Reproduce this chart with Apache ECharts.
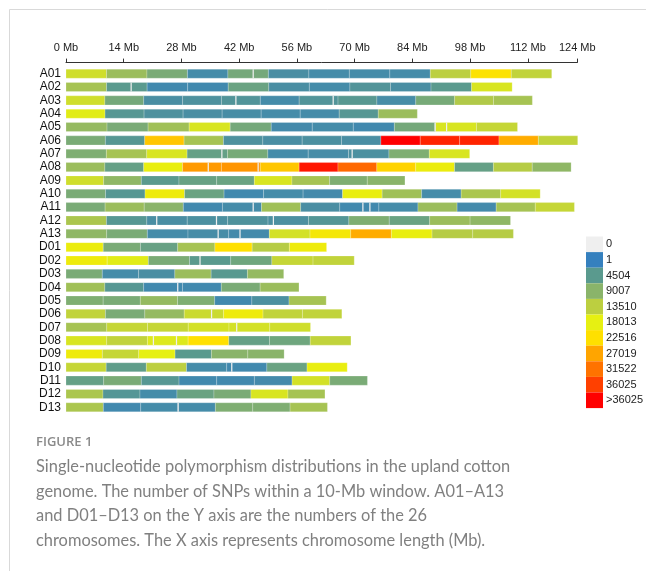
<!DOCTYPE html>
<html>
<head>
<meta charset="utf-8">
<script src="https://cdn.jsdelivr.net/npm/echarts@6/dist/echarts.min.js"></script>
<style>
  html, body { margin: 0; padding: 0; background: #ffffff; }
  #chart { width: 646px; height: 571px; }
</style>
</head>
<body>
<div id="chart"></div>
<script>
// Chromosome names (Y axis, top to bottom)
const chromosomes = ['A01','A02','A03','A04','A05','A06','A07','A08','A09','A10','A11','A12','A13',
                     'D01','D02','D03','D04','D05','D06','D07','D08','D09','D10','D11','D12','D13'];

// Chromosome lengths (Mb)
const lengthsMb = [117.8,108.2,113.1,85.2,109.5,124.1,97.9,122.5,82.2,115.0,123.3,107.8,108.5,
                   63.2,69.9,52.8,56.5,63.1,66.9,59.3,69.1,52.9,68.2,73.1,62.8,63.4];

// SNP counts per window, in order along each chromosome
const snpA01 = [15500,10500,7500,2000,7000,2500,2000,2000,2000,13500,22000,14000];
const snpA02 = [11500,4500,1500,1500,6000,2500,2000,3500,2500,4500,16500];
const snpA03 = [15500,7000,2500,3000,3500,2000,3500,4200,2200,7200,12500,11500];
const snpA04 = [17500,4000,3000,2500,2300,2000,2000,4000,10500];
const snpA05 = [10000,7500,11000,16500,7000,1800,2000,1500,7000,16500,14500];
const snpA06 = [7500,4000,24500,11500,3000,2500,2800,2500,40500,38000,38000,26500,14000];
const snpA07 = [8000,11500,16500,5500,7200,2000,2200,2800,8000,16500];
const snpA08 = [10500,5500,18500,28000,28500,24500,39000,32500,23500,19000,5500,13000,9500];
const snpA09 = [15500,9500,4500,5800,6000,16500,11500,8000,9000];
const snpA10 = [7500,4000,19500,6000,1500,2000,1800,18500,11000,2000,12000,16000];
const snpA11 = [7500,10500,9000,1500,2000,11000,2500,1500,2000,10500,1800,11500,14500];
const snpA12 = [12000,4000,2500,2800,3200,2800,3800,8000,6000,10500,9500];
const snpA13 = [9500,7500,2000,2200,1800,16000,20500,26500,18500,13000,13000];
const snpD01 = [19000,7500,5800,11500,22500,13000,19500];
const snpD02 = [19500,17500,7500,4500,6500,14500,14000];
const snpD03 = [7500,2000,2500,10500,4300,10000];
const snpD04 = [11000,4000,1500,1500,7500,10500];
const snpD05 = [8000,7500,10000,8000,1500,2800,11500];
const snpD06 = [14000,7500,10000,15000,19500,14000,14000];
const snpD07 = [11500,14500,14500,16000,16000,15500];
const snpD08 = [16500,14000,17000,22500,5500,6500,14000];
const snpD09 = [19500,14500,18000,4500,9000,9000];
const snpD10 = [14500,5000,13500,2000,1500,6000,18500];
const snpD11 = [5500,7500,4000,1500,1500,1800,16000,7500];
const snpD12 = [12000,3800,2000,6000,7500,16500,11500];
const snpD13 = [12000,1500,2000,2000,8000,8000,11500];

const snpByChromosome = [snpA01,snpA02,snpA03,snpA04,snpA05,snpA06,snpA07,snpA08,snpA09,snpA10,snpA11,snpA12,snpA13,
                         snpD01,snpD02,snpD03,snpD04,snpD05,snpD06,snpD07,snpD08,snpD09,snpD10,snpD11,snpD12,snpD13];

// Positions (Mb) of short stretches with no SNPs
const emptySpots = [['A01',45.4],['A02',15.8],['A03',41.2],['A03',64.8],['A05',89.5],['A05',92.3],
                    ['A07',37.8],['A07',69.4],['A08',34.5],['A08',46.6],['A11',45.4],['A11',72.0],['A11',73.7],
                    ['A12',22.0],['A12',36.5],['A12',50.3],['A13',36.9],['A13',42.2],['D02',32.5],['D04',27.1],
                    ['D06',35.3],['D07',41.4],['D08',21.2],['D08',26.8],['D10',40.2],['D13',27.2]];

// X axis tick positions (Mb)
const tickMb = [0,14,28,42,56,70,84,98,112,124];

// Colour key
const keyLabels = ['0','1','4504','9007','13510','18013','22516','27019','31522','36025','>36025'];
const keyColors = ['#efefef','#3580be','#5a9a8e','#8ab46a','#bccf40','#e6f012','#ffe000','#ffa500','#ff7300','#ff4000','#ff0000'];
const keyBreaks = [0,1,4504,9007,13510,18013,22516,27019,31522,36025,40528];

// Windows: [start, end, chromosome index, SNP count]
const windows = [];
snpByChromosome.forEach((counts, ci) => {
  const step = lengthsMb[ci] / counts.length;
  counts.forEach((v, i) => {
    windows.push([step * i, step * (i + 1), ci, v]);
  });
});
const gapWidth = 0.3;
const gaps = emptySpots.map(([name, pos]) => [pos - gapWidth / 2, pos + gapWidth / 2, chromosomes.indexOf(name), 0]);

function renderBlock(params, api) {
  const row = api.value(2);
  const a = api.coord([api.value(0), row]);
  const b = api.coord([api.value(1), row]);
  const h = api.size([0, 1])[1] * 0.68;
  return {
    type: 'rect',
    shape: { x: a[0], y: a[1] - h / 2, width: b[0] - a[0], height: h },
    style: { fill: api.visual('color'), stroke: 'rgba(255,255,255,0.35)', lineWidth: 0.6 }
  };
}
function renderGap(params, api) {
  const row = api.value(2);
  const a = api.coord([api.value(0), row]);
  const b = api.coord([api.value(1), row]);
  const h = api.size([0, 1])[1] * 0.68;
  return {
    type: 'rect',
    shape: { x: a[0], y: a[1] - h / 2, width: Math.max(1, b[0] - a[0]), height: h },
    style: { fill: api.visual('color') }
  };
}

const pieces = keyLabels.map((label, i) => {
  if (i === 0) return { value: 0, label, color: keyColors[i] };
  if (i === keyLabels.length - 1) return { gt: keyBreaks[i - 1], label, color: keyColors[i] };
  return { gte: keyBreaks[i], lt: keyBreaks[i + 1], label, color: keyColors[i] };
});

const captionLines = [
  'Single-nucleotide polymorphism distributions in the upland cotton',
  'genome. The number of SNPs within a 10-Mb window. A01\u2013A13',
  'and D01\u2013D13 on the Y axis are the numbers of the 26',
  'chromosomes. The X axis represents chromosome length (Mb).'
];

const chart = echarts.init(document.getElementById('chart'), null, { renderer: 'canvas' });
chart.setOption({
  backgroundColor: '#ffffff',
  animation: false,
  textStyle: { fontFamily: '"Liberation Sans", Arial, sans-serif' },
  grid: { left: 66, right: 68.7, top: 67, height: 347 },
  xAxis: {
    type: 'value', position: 'top', offset: 4.4, min: 0, max: 124,
    axisLine: { show: true, lineStyle: { color: '#333', width: 1 } },
    axisTick: { show: true, length: 4, customValues: tickMb, lineStyle: { color: '#333' } },
    axisLabel: { customValues: tickMb, formatter: v => v + ' Mb', fontSize: 11, color: '#222', margin: 9 },
    splitLine: { show: false }
  },
  yAxis: {
    type: 'category', data: chromosomes, inverse: true,
    axisLine: { show: false }, axisTick: { show: false },
    axisLabel: { interval: 0, fontSize: 12, color: '#111', margin: 5 }
  },
  visualMap: [
    {
      type: 'continuous', show: false, seriesIndex: 0, dimension: 3,
      min: keyBreaks[1], max: keyBreaks[keyBreaks.length - 1],
      inRange: { color: keyColors.slice(1) }
    },
    {
      type: 'piecewise', seriesIndex: 1, dimension: 3, orient: 'vertical', inverse: true, align: 'left',
      left: 586, top: 236.5, padding: 0, itemWidth: 17, itemHeight: 15.6, itemGap: 0, itemSymbol: 'rect',
      textGap: 3, selectedMode: false, pieces,
      textStyle: { fontSize: 11, color: '#222', width: 60, overflow: 'none' }
    }
  ],
  series: [
    { type: 'custom', renderItem: renderBlock, data: windows, encode: { x: [0, 1], y: 2 } },
    { type: 'custom', renderItem: renderGap, data: gaps, encode: { x: [0, 1], y: 2 }, z: 3 }
  ],
  graphic: [
    { type: 'line', shape: { x1: 9.5, y1: 9.5, x2: 646, y2: 9.5 }, style: { stroke: '#d9d9d9', lineWidth: 1 } },
    { type: 'line', shape: { x1: 9.5, y1: 9.5, x2: 9.5, y2: 571 }, style: { stroke: '#d9d9d9', lineWidth: 1 } },
    { type: 'text', left: 36, top: 436, style: { text: 'FIGURE 1', font: '600 13px "Open Sans", sans-serif', fill: '#8a8a8a' } },
    { type: 'text', left: 36, top: 455, style: { text: captionLines.join('\n'), font: '16.4px Lato, sans-serif', lineHeight: 24.4, fill: '#808080' } }
  ]
});
</script>
</body>
</html>
